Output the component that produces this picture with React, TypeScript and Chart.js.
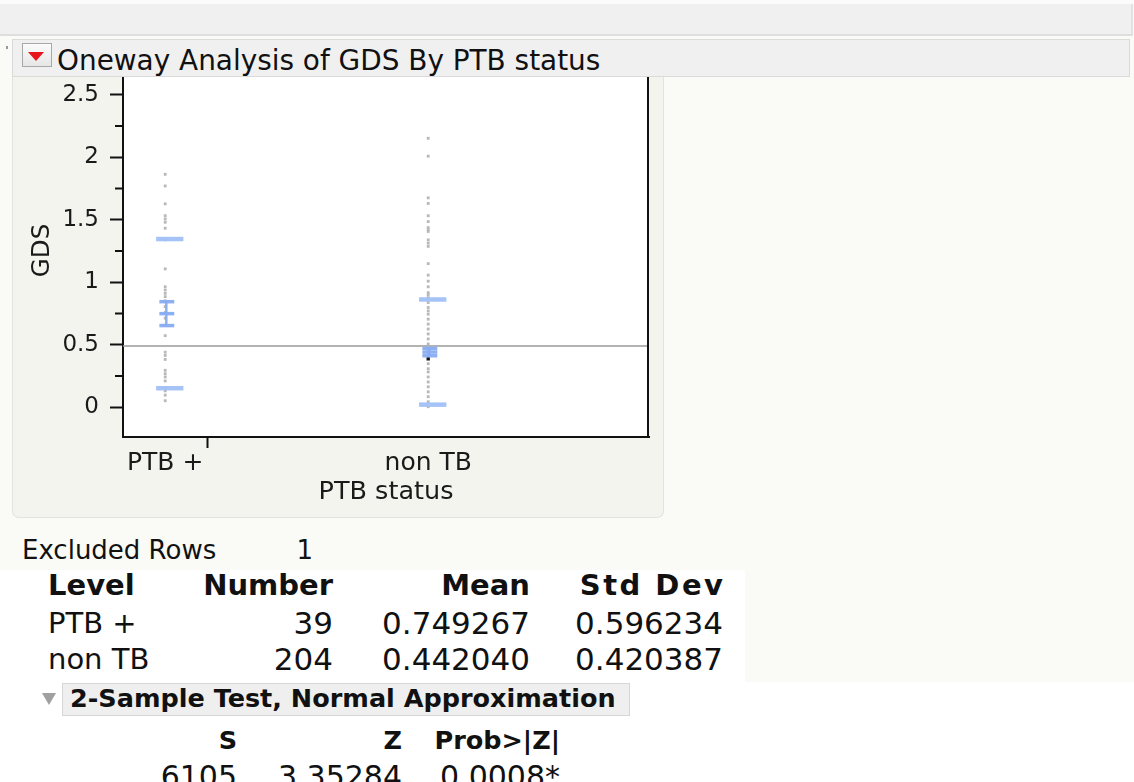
import React, { useEffect, useRef } from "react";
import { Chart, registerables } from "chart.js";

Chart.register(...registerables);

// ---------- data ----------
const categories = ["PTB +", "non TB"];
const counts = [39, 204];
const means = [0.749267, 0.44204];
const stdDevs = [0.596234, 0.420387];
const grandMean = 0.4913;

const ptbValues = [
  1.863, 1.77, 1.627, 1.532, 1.506, 1.48, 1.432, 1.34, 1.107, 0.964, 0.938,
  0.911, 0.885, 0.851, 0.806, 0.758, 0.713, 0.658, 0.573, 0.441, 0.415, 0.383,
  0.296, 0.269, 0.243, 0.211, 0.159, 0.132, 0.098, 0.053,
];
const nonTbValues = [
  2.151, 2.008, 1.675, 1.63, 1.532, 1.485, 1.437, 1.419, 1.406, 1.339, 1.313,
  1.287, 1.149, 1.057, 1.009, 0.964, 0.917, 0.9, 0.877, 0.838, 0.798, 0.771,
  0.745, 0.705, 0.666, 0.626, 0.587, 0.547, 0.507, 0.48, 0.454, 0.43, 0.349,
  0.309, 0.283, 0.243, 0.203, 0.164, 0.124, 0.085, 0.045, 0.005,
];
const selectedGroup = 1;
const selectedValue = 0.388;

const yTickValues = [0, 0.5, 1, 1.5, 2, 2.5];
const yMinorTickValues = [0.25, 0.75, 1.25, 1.75, 2.25];

const excludedRows = 1;
const testS = "6105";
const testZ = "3.35284";
const testProb = "0.0008*";

// ---------- styles ----------
const FONT = "'DejaVu Sans', sans-serif";
const SD_BLUE = "rgba(160,192,246,0.95)";
const MEAN_BLUE = "rgba(135,172,242,0.95)";
// offsets of marks around the category centre, in x-axis units
const SD_FROM = -4.2;
const SD_TO = 8.4;
const MEAN_FROM = -2.7;
const MEAN_TO = 4.2;
const MEAN_STEM = 0.5;

function App() {
  const canvasRef = useRef<HTMLCanvasElement | null>(null);

  useEffect(() => {
    document.body.style.margin = "0";
    const total = counts.reduce((a, b) => a + b, 0);
    const starts = counts.map((_, i) => counts.slice(0, i).reduce((a, b) => a + b, 0));
    const centers = counts.map((n, i) => starts[i] + n / 2);
    const boundaries = starts.slice(1);
    const groups = [ptbValues, nonTbValues];

    const seg = (x1: number, x2: number, y: number, color: string, w: number) => ({
      type: "line" as const,
      data: [
        { x: x1, y },
        { x: x2, y },
      ],
      borderColor: color,
      borderWidth: w,
      pointRadius: 0,
      borderCapStyle: "butt" as const,
    });

    const markSets: any[] = [];
    counts.forEach((n, i) => {
      const c = centers[i];
      const m = means[i];
      const sd = stdDevs[i];
      const se = sd / Math.sqrt(n);
      markSets.push(seg(c + SD_FROM, c + SD_TO, m + sd, SD_BLUE, 4.5));
      markSets.push(seg(c + SD_FROM, c + SD_TO, m - sd, SD_BLUE, 4.5));
      markSets.push(seg(c + MEAN_FROM, c + MEAN_TO, m + se, MEAN_BLUE, 3.5));
      markSets.push(seg(c + MEAN_FROM, c + MEAN_TO, m, MEAN_BLUE, 3.5));
      markSets.push(seg(c + MEAN_FROM, c + MEAN_TO, m - se, MEAN_BLUE, 3.5));
      markSets.push({
        type: "line" as const,
        data: [
          { x: c + MEAN_STEM, y: m - se },
          { x: c + MEAN_STEM, y: m + se },
        ],
        borderColor: MEAN_BLUE,
        borderWidth: 2.5,
        pointRadius: 0,
      });
    });

    const pointSets = groups.map((vals, i) => ({
      type: "scatter" as const,
      data: vals.map((v) => ({ x: centers[i], y: v })),
      backgroundColor: "#b8b8b8",
      borderWidth: 0,
      pointStyle: "rect" as const,
      pointRadius: 2,
    }));

    const selectedSet = {
      type: "scatter" as const,
      data: [{ x: centers[selectedGroup], y: selectedValue }],
      backgroundColor: "#111",
      borderWidth: 0,
      pointStyle: "rect" as const,
      pointRadius: 2.4,
    };

    const refLine = {
      type: "line" as const,
      data: [
        { x: 0, y: grandMean },
        { x: total, y: grandMean },
      ],
      borderColor: "#9a9a9a",
      borderWidth: 1.5,
      pointRadius: 0,
    };

    const framePlugin = {
      id: "frame",
      beforeDraw(chart: any) {
        const { ctx, chartArea } = chart;
        ctx.save();
        ctx.fillStyle = "#ffffff";
        ctx.fillRect(chartArea.left, chartArea.top, chartArea.right - chartArea.left, chartArea.bottom - chartArea.top);
        ctx.restore();
      },
      afterDraw(chart: any) {
        const { ctx, chartArea, scales } = chart;
        ctx.save();
        ctx.strokeStyle = "#111";
        ctx.lineWidth = 2;
        ctx.beginPath();
        ctx.moveTo(chartArea.right - 1, chartArea.top);
        ctx.lineTo(chartArea.right - 1, chartArea.bottom);
        ctx.stroke();
        ctx.beginPath();
        yMinorTickValues.forEach((v) => {
          const y = scales.y.getPixelForValue(v);
          ctx.moveTo(chartArea.left - 8, y);
          ctx.lineTo(chartArea.left, y);
        });
        ctx.stroke();
        ctx.restore();
      },
    };

    const chart = new Chart(canvasRef.current as HTMLCanvasElement, {
      type: "scatter",
      data: { datasets: [...markSets, selectedSet, ...pointSets, refLine] as any },
      options: {
        animation: false,
        responsive: false,
        maintainAspectRatio: false,
        layout: { padding: { left: 0, right: 14, top: 0, bottom: 0 } },
        plugins: { legend: { display: false }, tooltip: { enabled: false } },
        scales: {
          x: {
            type: "linear",
            min: 0,
            max: total,
            afterBuildTicks: (s: any) => {
              s.ticks = [...centers, ...boundaries].sort((a, b) => a - b).map((v) => ({ value: v }));
            },
            afterFit: (s: any) => {
              s.height = 81;
              s.paddingLeft = 0;
              s.paddingRight = 0;
            },
            ticks: {
              autoSkip: false,
              maxRotation: 0,
              color: "#1a1a1a",
              padding: 0,
              font: { family: FONT, size: 25 },
              callback: (v: any) => {
                const i = centers.indexOf(Number(v));
                return i >= 0 ? categories[i] : "";
              },
            },
            grid: {
              drawOnChartArea: false,
              tickLength: 11,
              tickWidth: 2,
              tickColor: (ctx: any) =>
                ctx.tick && boundaries.includes(ctx.tick.value) ? "#111" : "rgba(0,0,0,0)",
            },
            border: { display: true, color: "#111", width: 2 },
            title: {
              display: true,
              text: "PTB status",
              color: "#1a1a1a",
              font: { family: FONT, size: 25.5 },
              padding: { top: 0, bottom: 10 },
            },
          },
          y: {
            type: "linear",
            min: -0.237,
            max: 2.745,
            afterBuildTicks: (s: any) => {
              s.ticks = yTickValues.map((v) => ({ value: v }));
            },
            afterFit: (s: any) => {
              s.width = 111;
              s.paddingTop = 0;
              s.paddingBottom = 0;
            },
            ticks: {
              color: "#1a1a1a",
              padding: 11,
              font: { family: FONT, size: 23 },
              callback: (v: any) => String(v),
            },
            grid: {
              drawOnChartArea: false,
              tickLength: 13,
              tickWidth: 2,
              tickColor: "#111",
            },
            border: { display: true, color: "#111", width: 2 },
            title: {
              display: true,
              text: "GDS",
              color: "#1a1a1a",
              font: { family: FONT, size: 24.5 },
              padding: { top: 16, bottom: 0 },
            },
          },
        },
      },
      plugins: [framePlugin],
    });
    return () => chart.destroy();
  }, []);

  const abs = (extra: React.CSSProperties): React.CSSProperties => ({
    position: "absolute",
    margin: 0,
    lineHeight: 1,
    whiteSpace: "nowrap",
    fontFamily: FONT,
    color: "#111",
    ...extra,
  });
  // text placed by cap-top (y) with left or right edge
  const T = (
    text: string,
    x: number,
    capTop: number,
    size: number,
    opts: { bold?: boolean; right?: boolean; key?: string; spacing?: number } = {}
  ) => {
    const top = capTop - 0.117 * size;
    const sp = opts.spacing ?? 0;
    const base: React.CSSProperties = {
      top,
      fontSize: size,
      fontWeight: opts.bold ? 700 : 400,
      letterSpacing: sp,
    };
    const style: React.CSSProperties = opts.right
      ? { ...base, right: 1134 - x - sp, textAlign: "right" }
      : { ...base, left: x };
    return (
      <div key={opts.key ?? text + x + capTop} style={abs(style)}>
        {text}
      </div>
    );
  };

  const colNumber = 333;
  const colMean = 530;
  const colStd = 723;
  const rowTops = [612, 648];

  return (
    <div
      style={{
        position: "fixed",
        left: 0,
        top: 0,
        width: 1134,
        height: 782,
        overflow: "hidden",
        background: "#fafaf6",
        fontFamily: FONT,
      }}
    >
      {/* top toolbar band */}
      <div style={{ position: "absolute", left: 0, top: 0, width: 1134, height: 4, background: "#fbfbfb" }} />
      <div
        style={{
          position: "absolute",
          left: 0,
          top: 4,
          width: 1131,
          height: 30,
          background: "#f0f0f0",
          borderBottom: "2px solid #dedede",
          borderRight: "2px solid #e2e2e2",
        }}
      />
      <div style={{ position: "absolute", left: 6, top: 46, width: 2, height: 3, background: "#999" }} />

      {/* plot panel */}
      <div
        style={{
          position: "absolute",
          left: 12,
          top: 76,
          width: 650,
          height: 441,
          background: "#f4f4ef",
          border: "1px solid #e3e3de",
          borderTop: "none",
          borderRadius: "0 0 7px 7px",
        }}
      />
      <canvas
        ref={canvasRef}
        width={651}
        height={458}
        style={{ position: "absolute", left: 12, top: 60, width: 651, height: 458, zIndex: 1 }}
      />

      {/* outline header */}
      <div
        style={{
          position: "absolute",
          left: 12,
          top: 39,
          width: 1116,
          height: 36,
          background: "#f0f0f0",
          border: "1.5px solid #dadada",
          zIndex: 2,
        }}
      />
      <div
        style={{
          position: "absolute",
          left: 22,
          top: 43,
          width: 28,
          height: 22,
          background: "linear-gradient(#fbfbfb, #e6e6e6)",
          border: "1px solid #a8a8a8",
          zIndex: 3,
        }}
      />
      <div
        style={{
          position: "absolute",
          left: 28,
          top: 52,
          width: 0,
          height: 0,
          borderLeft: "8px solid transparent",
          borderRight: "8px solid transparent",
          borderTop: "9px solid #e8141c",
          zIndex: 3,
        }}
      />
      <div style={{ position: "absolute", left: 0, top: 0, zIndex: 3 }}>
        {T("Oneway Analysis of GDS By PTB status", 57, 50, 27.9)}
      </div>

      {/* excluded rows */}
      {T("Excluded Rows", 22, 540, 26)}
      {T(String(excludedRows), 313, 540, 26, { right: true })}

      {/* summary table */}
      <div style={{ position: "absolute", left: 0, top: 570, width: 745, height: 112, background: "#ffffff" }} />
      {T("Level", 48, 574, 29, { bold: true })}
      {T("Number", colNumber, 574, 29, { bold: true, right: true })}
      {T("Mean", colMean, 574, 29, { bold: true, right: true })}
      {T("Std Dev", colStd, 574, 29, { bold: true, right: true, spacing: 2.5 })}
      {categories.map((c, i) => (
        <React.Fragment key={c}>
          {T(c, 48, rowTops[i], 29)}
          {T(String(counts[i]), colNumber, rowTops[i], 31, { right: true })}
          {T(means[i].toFixed(6), colMean, rowTops[i], 31, { right: true })}
          {T(stdDevs[i].toFixed(6), colStd, rowTops[i], 31, { right: true })}
        </React.Fragment>
      ))}

      {/* test section */}
      <div style={{ position: "absolute", left: 0, top: 682, width: 1134, height: 100, background: "#ffffff" }} />
      <div
        style={{
          position: "absolute",
          left: 42,
          top: 693,
          width: 0,
          height: 0,
          borderLeft: "7px solid transparent",
          borderRight: "7px solid transparent",
          borderTop: "12px solid #a0a0a0",
        }}
      />
      <div
        style={{
          position: "absolute",
          left: 62,
          top: 683,
          width: 566,
          height: 31,
          background: "#efefef",
          border: "1px solid #d6d6d6",
        }}
      />
      {T("2-Sample Test, Normal Approximation", 70, 689, 25.5, { bold: true })}
      {T("S", 237, 731, 25.5, { bold: true, right: true })}
      {T("Z", 402, 731, 25.5, { bold: true, right: true })}
      {T("Prob>|Z|", 560, 731, 25.5, { bold: true, right: true })}
      {T(testS, 237, 766, 30, { right: true })}
      {T(testZ, 402, 766, 30, { right: true })}
      {T(testProb, 560, 766, 30, { right: true })}
    </div>
  );
}

export default App;
